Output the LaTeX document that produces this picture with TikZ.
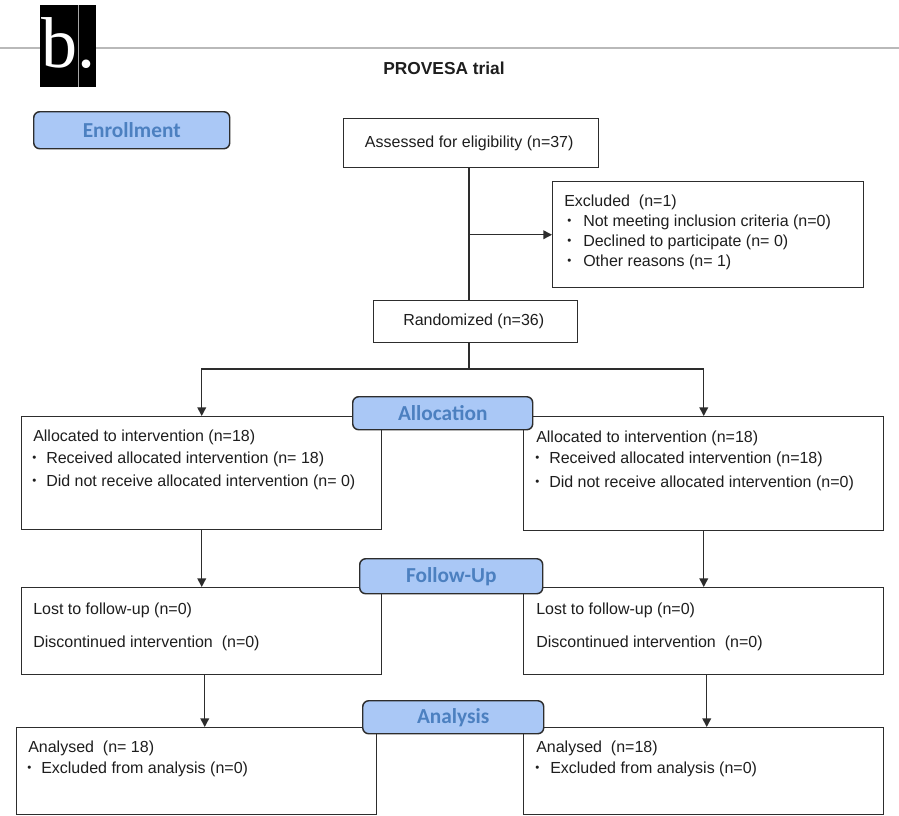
\documentclass[tikz,border=0pt]{standalone}
\usepackage{fontspec}
\usepackage{graphicx}
\setmainfont{Liberation Sans}
\newfontfamily\labfont{Carlito}
\newfontfamily\bfont{Liberation Serif}
\usetikzlibrary{arrows.meta}
\definecolor{labfill}{RGB}{170,200,246}
\definecolor{labtext}{RGB}{76,128,192}
\definecolor{linec}{RGB}{45,45,45}
\definecolor{txtc}{RGB}{30,30,30}
\newcommand{\bul}{\raisebox{0.22ex}{\scalebox{0.72}{\textbullet}}}
\begin{document}
\begin{tikzpicture}[x=0.75pt,y=-0.75pt,
  box/.style={draw=linec, line width=1.1pt, fill=white, inner sep=0pt, anchor=north west},
  lab/.style={draw=linec, line width=1.1pt, fill=labfill, rounded corners=4.5pt, inner sep=0pt,
    anchor=north west, font=\labfont\bfseries\fontsize{16}{19}\selectfont, text=labtext},
  txt/.style={inner sep=0pt, anchor=base west, font=\fontsize{12}{15}\selectfont, text=txtc},
  conn/.style={draw=linec, line width=1.1pt},
  arr/.style={conn, -{Triangle[length=6.5pt,width=6.5pt]}}]
\useasboundingbox (0,0) rectangle (899,815);
\fill[white] (0,0) rectangle (899,815);

% header
\draw[gray!55, line width=0.8pt] (0,48) -- (899,48);
\fill[black] (40,5) rectangle (96,87);
\draw[gray!70, line width=0.5pt] (78,5) -- (78,87);
\node[inner sep=0pt, anchor=base west, font=\bfont\fontsize{54}{60}\selectfont, text=white] (blabel) at (41,67) {b.};
\node[inner sep=0pt, anchor=base, font=\bfseries\fontsize{13}{16}\selectfont, text=txtc] (title) at (444,74) {PROVESA trial};

% boxes
\node[box, minimum width=191.25pt, minimum height=36.75pt] (A) at (343,118) {};
\node[box, minimum width=233.25pt, minimum height=79.5pt] (E) at (552,181) {};
\node[box, minimum width=153pt, minimum height=31.5pt] (R) at (373,300) {};
\node[box, minimum width=270pt, minimum height=84.75pt] (L1) at (21,416) {};
\node[box, minimum width=270pt, minimum height=85.5pt] (R1) at (523,416) {};
\node[box, minimum width=270pt, minimum height=65.25pt] (L2) at (21,587) {};
\node[box, minimum width=270pt, minimum height=65.25pt] (R2) at (523,587) {};
\node[box, minimum width=270pt, minimum height=65.25pt] (L3) at (16,727) {};
\node[box, minimum width=270pt, minimum height=65.25pt] (R3) at (523,727) {};

% phase labels
\node[lab, minimum width=147pt, minimum height=27.75pt] (enr) at (33,111) {Enrollment};
\node[lab, minimum width=135pt, minimum height=24.75pt] (alloc) at (352,396) {Allocation};
\node[lab, minimum width=137.25pt, minimum height=26.25pt] (fu) at (359,558) {Follow-Up};
\node[lab, minimum width=135.75pt, minimum height=24.75pt] (an) at (362,700) {Analysis};

% texts
\node[txt, anchor=center] (At) at ([xshift=-1.5pt]A.center) {Assessed for eligibility (n=37)};
\node[txt] (E1) at (564,206) {Excluded~~(n=1)};
\node[txt] (E2) at (567,226) {\makebox[12pt][l]{\bul}Not meeting inclusion criteria (n=0)};
\node[txt] (E3) at (567,246) {\makebox[12pt][l]{\bul}Declined to participate (n= 0)};
\node[txt] (E4) at (567,266) {\makebox[12pt][l]{\bul}Other reasons (n= 1)};
\node[txt, anchor=center] (Rt) at ([xshift=-1.5pt]R.center) {Randomized (n=36)};

\node[txt] (L1a) at (33,441) {Allocated to intervention (n=18)};
\node[txt] (L1b) at (32,463) {\makebox[10.5pt][l]{\bul}Received allocated intervention (n= 18)};
\node[txt] (L1c) at (32,486) {\makebox[10.5pt][l]{\bul}Did not receive allocated intervention (n= 0)};
\node[txt] (R1a) at (536,442) {Allocated to intervention (n=18)};
\node[txt] (R1b) at (535,463) {\makebox[10.5pt][l]{\bul}Received allocated intervention (n=18)};
\node[txt] (R1c) at (535,487) {\makebox[10.5pt][l]{\bul}Did not receive allocated intervention (n=0)};

\node[txt] (L2a) at (33,614) {Lost to follow-up (n=0)};
\node[txt] (L2b) at (33,647) {Discontinued intervention~~(n=0)};
\node[txt] (R2a) at (536,614) {Lost to follow-up (n=0)};
\node[txt] (R2b) at (536,647) {Discontinued intervention~~(n=0)};

\node[txt] (L3a) at (28,752) {Analysed~~(n= 18)};
\node[txt] (L3b) at (27,773) {\makebox[10.5pt][l]{\bul}Excluded from analysis (n=0)};
\node[txt] (R3a) at (536,752) {Analysed~~(n=18)};
\node[txt] (R3b) at (535,773) {\makebox[11.25pt][l]{\bul}Excluded from analysis (n=0)};

% connectors
\coordinate (tx) at (469,0);
\coordinate (split) at (469,369);
\draw[conn] (A.south -| tx) -- (R.north -| tx);
\draw[arr] (tx |- E.west) -- (E.west);
\draw[conn] (R.south -| split) -- (split);
\draw[arr] (split) -| (L1.north);
\draw[arr] (split) -| (R1.north);
\draw[arr] (L1.south) -- (L2.north);
\draw[arr] (R1.south) -- (R2.north);
\draw[arr] ([xshift=2.25pt]L2.south) -- ([xshift=2.25pt]L2.south |- L3.north);
\draw[arr] ([xshift=2.25pt]R2.south) -- ([xshift=2.25pt]R2.south |- R3.north);
\end{tikzpicture}
\end{document}
